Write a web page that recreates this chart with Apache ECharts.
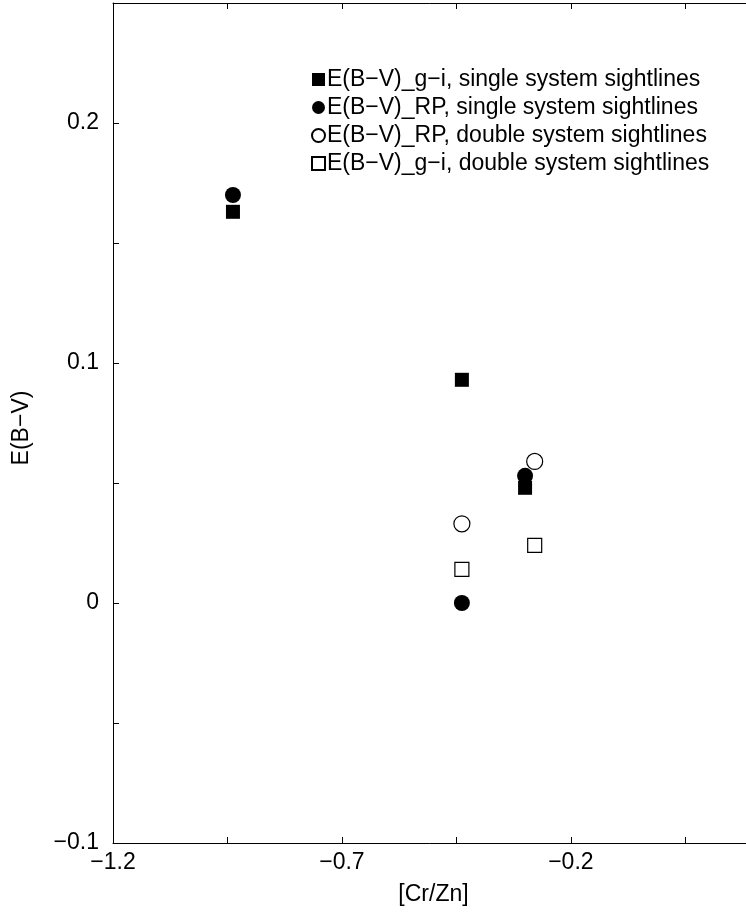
<!DOCTYPE html>
<html>
<head>
<meta charset="utf-8">
<script src="https://cdn.jsdelivr.net/npm/echarts@6/dist/echarts.min.js"></script>
<style>
html,body{margin:0;padding:0;background:#fff;}
#chart{width:746px;height:913px;}
</style>
</head>
<body>
<div id="chart"></div>
<script>
// ---- data ----
var seriesNames = [
  'E(B\u2212V)_g\u2212i, single system sightlines',
  'E(B\u2212V)_RP, single system sightlines',
  'E(B\u2212V)_RP, double system sightlines',
  'E(B\u2212V)_g\u2212i, double system sightlines'
];
var giSingle = [[-0.938, 0.163], [-0.438, 0.093], [-0.300, 0.048]];
var rpSingle = [[-0.938, 0.170], [-0.438, 0.000], [-0.300, 0.053]];
var rpDouble = [[-0.438, 0.033], [-0.279, 0.059]];
var giDouble = [[-0.438, 0.014], [-0.279, 0.024]];

var xTicks = [-1.2, -0.95, -0.7, -0.45, -0.2, 0.05];
var xLabels = [-1.2, -0.7, -0.2];
var yTicks = [-0.1, -0.05, 0, 0.05, 0.1, 0.15, 0.2];
var yLabels = [-0.1, 0, 0.1, 0.2];

var FONT = '"Liberation Sans", Arial, sans-serif';
function fmt(v) {
  var s = String(Math.round(v * 1000) / 1000);
  return s.replace('-', '\u2212');
}
var axisLineStyle = { color: '#000', width: 1 };

var chart = echarts.init(document.getElementById('chart'), null, { renderer: 'canvas' });
chart.setOption({
  animation: false,
  backgroundColor: '#fff',
  textStyle: { fontFamily: FONT },
  grid: { left: 113, top: 3, width: 641, height: 840, containLabel: false, outerBoundsMode: 'none' },
  legend: {
    orient: 'vertical',
    left: 306,
    top: 63,
    itemWidth: 13,
    itemHeight: 13,
    itemGap: 5,
    textStyle: { fontFamily: FONT, fontSize: 23, color: '#000', padding: [0, 0, 0, -3] },
    data: [
      { name: seriesNames[0], icon: 'rect' },
      { name: seriesNames[1], icon: 'circle' },
      { name: seriesNames[2], icon: 'circle' },
      { name: seriesNames[3], icon: 'rect' }
    ]
  },
  xAxis: [
    {
      type: 'value', position: 'bottom', min: -1.2, max: 0.2,
      name: '[Cr/Zn]', nameLocation: 'middle', nameGap: 40,
      nameTextStyle: { fontFamily: FONT, fontSize: 23, color: '#000' },
      axisLine: { show: true, onZero: false, lineStyle: axisLineStyle },
      axisTick: { show: true, inside: true, length: 6, lineStyle: axisLineStyle, customValues: xTicks },
      axisLabel: { fontFamily: FONT, fontSize: 23, color: '#000', margin: 8, customValues: xLabels, formatter: fmt },
      splitLine: { show: false }
    },
    {
      type: 'value', position: 'top', min: -1.2, max: 0.2,
      axisLine: { show: true, onZero: false, lineStyle: axisLineStyle },
      axisTick: { show: true, inside: true, length: 6, lineStyle: axisLineStyle, customValues: xTicks },
      axisLabel: { show: false },
      splitLine: { show: false }
    }
  ],
  yAxis: [
    {
      type: 'value', position: 'left', min: -0.1, max: 0.25,
      name: 'E(B\u2212V)', nameLocation: 'middle', nameGap: 80, nameRotate: 90,
      nameTextStyle: { fontFamily: FONT, fontSize: 23, color: '#000', padding: [0, 10, 0, 0] },
      axisLine: { show: true, onZero: false, lineStyle: axisLineStyle },
      axisTick: { show: true, inside: true, length: 6, lineStyle: axisLineStyle, customValues: yTicks },
      axisLabel: { fontFamily: FONT, fontSize: 23, color: '#000', margin: 14, customValues: yLabels, formatter: fmt },
      splitLine: { show: false }
    }
  ],
  series: [
    {
      name: seriesNames[2], type: 'scatter', symbol: 'circle', symbolSize: 16, z: 2,
      itemStyle: { color: '#fff', borderColor: '#000', borderWidth: 1.2, opacity: 1 },
      data: rpDouble
    },
    {
      name: seriesNames[3], type: 'scatter', symbol: 'rect', symbolSize: 14, z: 2,
      itemStyle: { color: '#fff', borderColor: '#000', borderWidth: 1.2, opacity: 1 },
      data: giDouble
    },
    {
      name: seriesNames[0], type: 'scatter', symbol: 'rect', symbolSize: 14, z: 3,
      itemStyle: { color: '#000', opacity: 1 },
      data: giSingle
    },
    {
      name: seriesNames[1], type: 'scatter', symbol: 'circle', symbolSize: 16, z: 4,
      itemStyle: { color: '#000', opacity: 1 },
      data: rpSingle
    }
  ]
});
</script>
</body>
</html>
